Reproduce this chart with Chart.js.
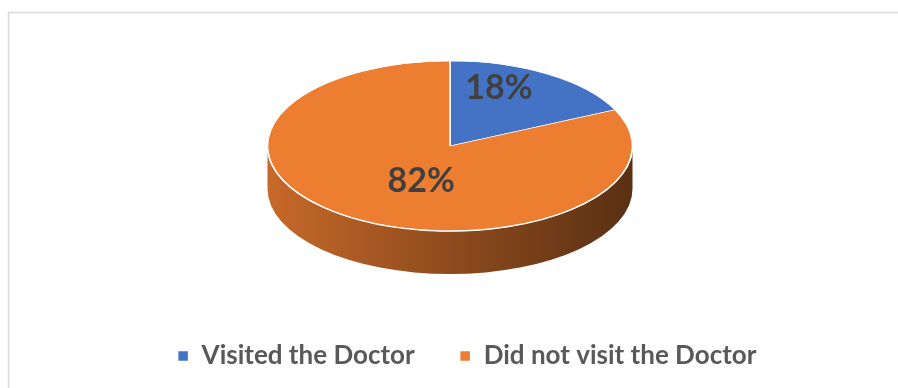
<!DOCTYPE html>
<html>
<head>
<meta charset="utf-8">
<script src="https://cdn.jsdelivr.net/npm/chart.js@4/dist/chart.umd.min.js"></script>
<style>
  html, body { margin: 0; padding: 0; background: #fff; }
  canvas { display: block; }
</style>
</head>
<body>
<canvas id="pieChart" width="898" height="388"></canvas>
<script>
const categories = ['Visited the Doctor', 'Did not visit the Doctor'];
const shares = [18, 82];
const sliceColors = ['#4472C4', '#ED7D31'];

// where the tilted disc sits on the canvas
const PIE_X = 450;
const PIE_Y = 146;
const TILT = 0.466;
const DEPTH = 43;

function shade(hex, f) {
  const n = parseInt(hex.slice(1), 16);
  const r = Math.round(((n >> 16) & 255) * f);
  const g = Math.round(((n >> 8) & 255) * f);
  const b = Math.round((n & 255) * f);
  return `rgb(${r},${g},${b})`;
}

// frame line around the chart
const frame = {
  id: 'frame',
  beforeDraw(chart) {
    const ctx = chart.ctx;
    ctx.save();
    ctx.strokeStyle = '#d9d9d9';
    ctx.lineWidth = 1.5;
    ctx.beginPath();
    ctx.moveTo(8.5, chart.height);
    ctx.lineTo(8.5, 12.5);
    ctx.lineTo(chart.width, 12.5);
    ctx.stroke();
    ctx.restore();
  }
};

// squashes the pie into an ellipse and draws the side wall under it
const tilt3d = {
  id: 'tilt3d',
  beforeDatasetsDraw(chart) {
    const ctx = chart.ctx;
    const arcs = chart.getDatasetMeta(0).data;
    if (!arcs.length) return;
    const rx = arcs[0].outerRadius;
    const ry = rx * TILT;

    // front half of the wall, one band per slice
    arcs.forEach(arc => {
      for (const shift of [0, 2 * Math.PI, -2 * Math.PI]) {
        const a = Math.max(arc.startAngle + shift, 0);
        const b = Math.min(arc.endAngle + shift, Math.PI);
        if (b <= a) continue;
        const grad = ctx.createLinearGradient(PIE_X - rx, 0, PIE_X + rx, 0);
        const col = arc.options.backgroundColor;
        grad.addColorStop(0, shade(col, 0.84));
        grad.addColorStop(0.5, shade(col, 0.6));
        grad.addColorStop(1, shade(col, 0.38));
        ctx.beginPath();
        ctx.ellipse(PIE_X, PIE_Y + DEPTH, rx, ry, 0, a, b);
        ctx.ellipse(PIE_X, PIE_Y, rx, ry, 0, b, a, true);
        ctx.closePath();
        ctx.fillStyle = grad;
        ctx.fill();
      }
    });

    ctx.save();
    ctx.translate(PIE_X, PIE_Y);
    ctx.scale(1, TILT);
    ctx.translate(-arcs[0].x, -arcs[0].y);
  },
  afterDatasetsDraw(chart, args, opts) {
    const ctx = chart.ctx;
    const arcs = chart.getDatasetMeta(0).data;
    if (!arcs.length) return;
    ctx.restore();
    const rx = arcs[0].outerRadius;
    const ry = rx * TILT;

    // light rim along the front edge of the top face
    ctx.save();
    ctx.strokeStyle = 'rgba(255,255,255,0.95)';
    ctx.lineWidth = 1.5;
    ctx.beginPath();
    ctx.ellipse(PIE_X, PIE_Y, rx, ry, 0, 0.05, Math.PI - 0.05);
    ctx.stroke();

    // percentage labels
    ctx.font = opts.font;
    ctx.fillStyle = opts.color;
    ctx.textAlign = 'center';
    ctx.textBaseline = 'middle';
    const values = chart.data.datasets[0].data;
    arcs.forEach((arc, i) => {
      const mid = (arc.startAngle + arc.endAngle) / 2;
      const nudge = opts.nudge[i] || [0, 0];
      const x = PIE_X + Math.cos(mid) * rx * 0.5 + nudge[0];
      const y = PIE_Y + Math.sin(mid) * ry * 0.5 + nudge[1];
      ctx.fillText(values[i] + '%', x, y);
    });
    ctx.restore();
  }
};

new Chart(document.getElementById('pieChart'), {
  type: 'pie',
  data: {
    labels: categories,
    datasets: [{
      data: shares,
      backgroundColor: sliceColors,
      borderColor: '#ffffff',
      borderWidth: 1.5,
      radius: 182.5,
      clip: false
    }]
  },
  options: {
    responsive: false,
    animation: false,
    devicePixelRatio: 1,
    layout: { padding: { top: 10, bottom: 9, left: 36, right: 0 } },
    plugins: {
      legend: {
        position: 'bottom',
        labels: {
          boxWidth: 11,
          boxHeight: 11,
          padding: 45,
          color: '#595959',
          font: { family: 'Lato', size: 26, weight: 'bold' }
        }
      },
      tooltip: { enabled: false },
      tilt3d: {
        font: 'bold 34px Lato',
        color: '#404040',
        nudge: [[0, -22], [20, -1]]
      }
    }
  },
  plugins: [frame, tilt3d]
});
</script>
</body>
</html>
